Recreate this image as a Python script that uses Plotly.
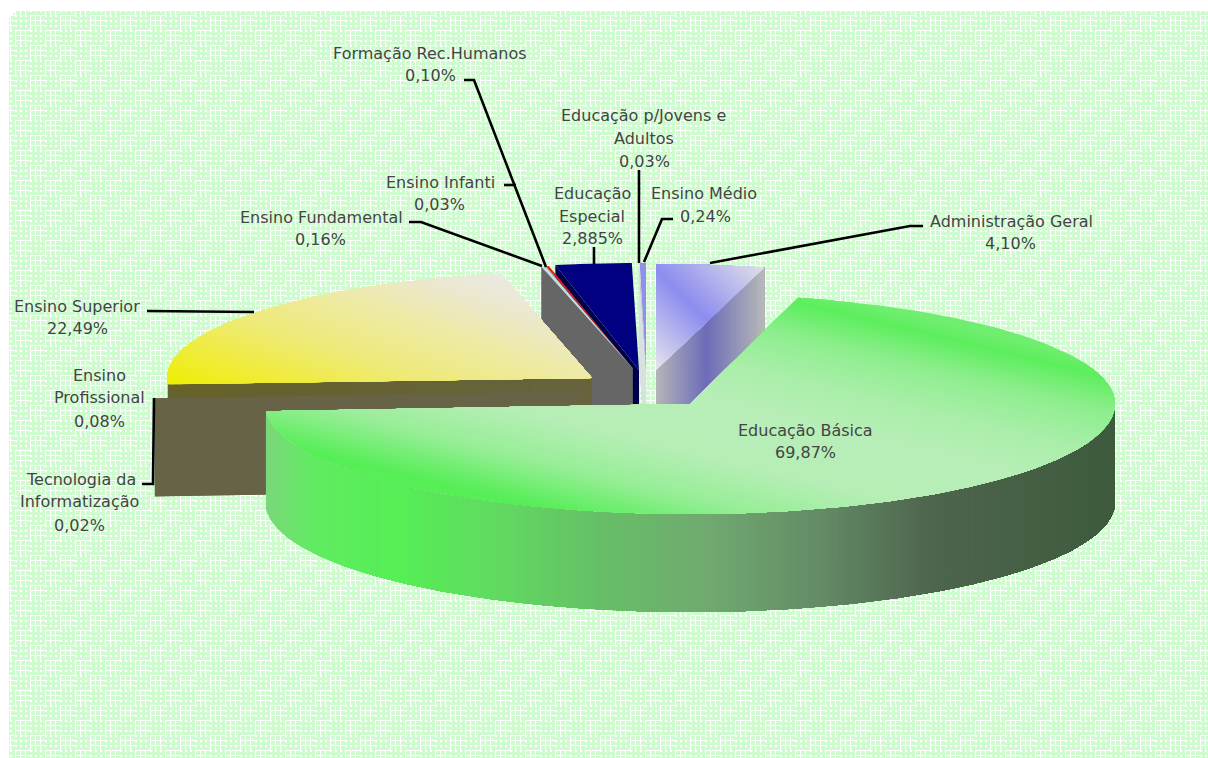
import base64
import struct
import zlib

import numpy as np
import plotly.graph_objects as go

# Budget shares, listed counter-clockwise starting from twelve o'clock
categories = ["Ensino Médio", "Educação p/Jovens e Adultos", "Educação Especial",
              "Formação Rec.Humanos", "Ensino Infanti", "Ensino Fundamental",
              "Ensino Superior", "Ensino Profissional", "Tecnologia da Informatização",
              "Educação Básica", "Administração Geral"]
shares = [0.24, 0.03, 2.885, 0.10, 0.03, 0.16, 22.49, 0.08, 0.02, 69.87, 4.10]
share_labels = ["0,24%", "0,03%", "2,885%", "0,10%", "0,03%", "0,16%",
                "22,49%", "0,08%", "0,02%", "69,87%", "4,10%"]

W, H = 1208, 758
RADIUS_X = 425
DEPTH = 98
START_ANGLE = 90.0

# Exploded centre and vertical radius of each slice
centers = {
    "Ensino Médio": (646, 370, 107), "Educação p/Jovens e Adultos": (646, 370, 107),
    "Educação Especial": (639, 370, 107),
    "Formação Rec.Humanos": (632.5, 368, 104), "Ensino Infanti": (632.5, 368, 104),
    "Ensino Fundamental": (632.5, 368, 104),
    "Ensino Superior": (592, 378, 107),
    "Ensino Profissional": (579, 391.5, 108), "Tecnologia da Informatização": (579, 391.5, 108),
    "Educação Básica": (690, 404, 110), "Administração Geral": (656, 370, 106),
}
draw_order = ["Administração Geral", "Ensino Médio", "Educação p/Jovens e Adultos",
              "Educação Especial", "Formação Rec.Humanos", "Ensino Infanti",
              "Ensino Fundamental", "Ensino Superior", "Ensino Profissional",
              "Tecnologia da Informatização", "Educação Básica"]

GRAY_WALL = "#666666"
BOX_WALL = "#666346"
flat_colors = {
    "Ensino Médio": ("#9090ea", "#62629f"),
    "Educação p/Jovens e Adultos": ("#e9f1f1", "#d8e0e0"),
    "Educação Especial": ("#000080", "#00004a"),
    "Formação Rec.Humanos": ("#e02010", GRAY_WALL),
    "Ensino Infanti": ("#f4f4f4", GRAY_WALL),
    "Ensino Fundamental": ("#c4dce0", GRAY_WALL),
    "Ensino Profissional": ("#a8a890", BOX_WALL),
    "Tecnologia da Informatização": ("#a8a890", BOX_WALL),
}

# Shading ramps: (projection value, colour) along a pixel-space direction
green_top_dir = (-0.24, 1.0)
green_top = [(95, "#70ee70"), (110, "#5cee5c"), (145, "#8eee8e"), (185, "#a8eea8"),
             (230, "#b8eeb8"), (285, "#b6eeb6"), (330, "#98ee98"), (377, "#55ee55"),
             (400, "#60ee60")]
green_wall = [(265, "#7ad87a"), (315, "#60ec60"), (399, "#55ee55"), (482, "#60dd60"),
              (593, "#66c066"), (704, "#70aa70"), (815, "#648c66"), (927, "#4e654e"),
              (1115, "#3d5a3d")]
yellow_dir = (1.0, -3.0)
yellow_top = [(-990, "#eeee00"), (-889, "#f0ec30"), (-720, "#eeea78"), (-545, "#eeeaa8"),
              (-417, "#ebe8d0"), (-316, "#ebeae4")]
yellow_wall = [(168, "#66622a"), (592, "#666340")]
admin_dir = (1.0, -1.0)
admin_top = [(286, "#e4e4ec"), (385, "#8c8cf0"), (495, "#e0e0e8")]
admin_wall = [(656, "#b4b4b8"), (705, "#6c6cb8"), (763, "#b8b8b8")]

# Text lines of every label: (text, x centre, y centre)
text_lines = [
    ("Formação Rec.Humanos", 430, 53), ("0,10%", 430, 75),
    ("Ensino Infanti", 440, 182), ("0,03%", 439, 204),
    ("Ensino Fundamental", 321, 217), ("0,16%", 320, 239),
    ("Educação p/Jovens e", 643, 115), ("Adultos", 644, 138), ("0,03%", 644, 161),
    ("Educação", 592, 193), ("Especial", 592, 216), ("2,885%", 592, 238),
    ("Ensino Médio", 704, 193), ("0,24%", 705, 216),
    ("Administração Geral", 1011, 221), ("4,10%", 1010, 243),
    ("Ensino Superior", 77, 306), ("22,49%", 77, 328),
    ("Ensino", 99, 375), ("Profissional", 99, 397), ("0,08%", 99, 421),
    ("Tecnologia da", 81, 479), ("Informatização", 79, 501), ("0,02%", 79, 525),
    ("Educação Básica", 805, 430), ("69,87%", 805, 452),
]

# Leader line routes
leaders = [
    [(464, 80), (474, 80), (546, 267)],
    [(504, 185), (516, 185)],
    [(409, 222), (421, 222), (542, 266)],
    [(639, 170), (639, 263)],
    [(594, 247), (594, 264)],
    [(673, 219), (662, 219), (644, 262)],
    [(923, 226), (910, 226), (710, 263)],
    [(147, 311), (254, 312)],
    [(142, 484), (153, 484), (154, 398)],
]


def hex_rgb(c):
    return np.array([int(c[i:i + 2], 16) for i in (1, 3, 5)], dtype=float)


def ramp_color(stops, t):
    pos = [s[0] for s in stops]
    rgb = np.array([hex_rgb(s[1]) for s in stops])
    r, g, b = (np.interp(t, pos, rgb[:, i]) for i in range(3))
    return f"rgb({r:.0f},{g:.0f},{b:.0f})"


def clip_half_plane(poly, d, t0):
    """Keep the part of a polygon whose projection on d is at least t0."""
    out = []
    n = len(poly)
    for i in range(n):
        p, q = poly[i], poly[(i + 1) % n]
        tp = p[0] * d[0] + p[1] * d[1]
        tq = q[0] * d[0] + q[1] * d[1]
        if tp >= t0:
            out.append(p)
        if (tp >= t0) != (tq >= t0):
            f = (t0 - tp) / (tq - tp)
            out.append((p[0] + f * (q[0] - p[0]), p[1] + f * (q[1] - p[1])))
    return out


def add_poly(fig, poly, color):
    xs = [p[0] for p in poly] + [poly[0][0]]
    ys = [p[1] for p in poly] + [poly[0][1]]
    fig.add_trace(go.Scatter(x=xs, y=ys, mode="lines", fill="toself", fillcolor=color,
                             line=dict(width=0), hoverinfo="skip"))


def add_shaded(fig, poly, d, stops, steps):
    # Later bands paint over earlier ones, so no seams appear between them
    lo, hi = stops[0][0], stops[-1][0]
    add_poly(fig, poly, ramp_color(stops, lo))
    for t in np.linspace(lo, hi, steps)[1:]:
        part = clip_half_plane(poly, d, t)
        if len(part) >= 3:
            add_poly(fig, part, ramp_color(stops, t))


def rim_point(c, ang):
    rad = np.radians(ang)
    return (c[0] + RADIUS_X * np.cos(rad), c[1] - c[2] * np.sin(rad))


def top_face(c, a0, a1):
    count = max(2, int(abs(a1 - a0) * 2))
    return [(c[0], c[1])] + [rim_point(c, a) for a in np.linspace(a0, a1, count)]


def cut_face(c, ang):
    r = rim_point(c, ang)
    return [(c[0], c[1]), r, (r[0], r[1] + DEPTH), (c[0], c[1] + DEPTH)]


def rim_wall(c, a0, a1):
    # Only the part of the rim that faces the viewer
    lo, hi = max(a0, 180.0), min(a1, 360.0)
    if hi <= lo:
        return None
    arc = [rim_point(c, a) for a in np.linspace(lo, hi, int((hi - lo) * 2) + 2)]
    return arc + [(p[0], p[1] + DEPTH) for p in reversed(arc)]


def background_uri():
    # Woven pale-green tile written straight to a PNG
    yy, xx = np.mgrid[0:H, 0:W]
    block = ((xx % 30 < 15) == (yy % 30 < 15))
    dots = (xx % 5 < 2) & (yy % 5 < 2)
    lines = (xx % 5 == 0) | (yy % 5 == 0)
    white = np.where(block, dots, lines)
    img = np.full((H, W, 3), 255, dtype=np.uint8)
    inside = (xx >= 9) & (yy >= 11) & ((xx - 9) + (yy - 11) >= 7)
    img[inside & ~white] = (206, 252, 206)
    raw = b"".join(b"\x00" + img[row].tobytes() for row in range(H))

    def chunk(tag, data):
        body = tag + data
        return struct.pack(">I", len(data)) + body + struct.pack(">I", zlib.crc32(body))

    png = (b"\x89PNG\r\n\x1a\n" + chunk(b"IHDR", struct.pack(">IIBBBBB", W, H, 8, 2, 0, 0, 0))
           + chunk(b"IDAT", zlib.compress(raw, 9)) + chunk(b"IEND", b""))
    return "data:image/png;base64," + base64.b64encode(png).decode()


# Convert the shares into angular spans
scale = 360.0 / sum(shares)
spans = {}
angle = START_ANGLE
for name, share in zip(categories, shares):
    spans[name] = (angle, angle + share * scale)
    angle += share * scale

fig = go.Figure()
for name in draw_order:
    a0, a1 = spans[name]
    c = centers[name]
    if name == "Administração Geral":
        add_shaded(fig, cut_face(c, a0 - 360 if a0 > 360 else a0), (1, 0), admin_wall, 54)
        add_shaded(fig, top_face(c, a0, a1), admin_dir, admin_top, 70)
    elif name == "Ensino Superior":
        add_shaded(fig, cut_face(c, a1), (1, 0), yellow_wall, 8)
        add_shaded(fig, top_face(c, a0, a1), yellow_dir, yellow_top, 90)
    elif name == "Educação Básica":
        add_shaded(fig, rim_wall(c, a0, a1), (1, 0), green_wall, 170)
        add_shaded(fig, top_face(c, a0, a1), green_top_dir, green_top, 110)
    else:
        top_color, wall_color = flat_colors[name]
        add_poly(fig, cut_face(c, a1), wall_color)
        add_poly(fig, top_face(c, a0, a1), top_color)

for route in leaders:
    fig.add_trace(go.Scatter(x=[p[0] for p in route], y=[p[1] for p in route], mode="lines",
                             line=dict(color="#000000", width=2.6), hoverinfo="skip"))

for text, x, y in text_lines:
    fig.add_annotation(x=x, y=y, text=text, showarrow=False, xanchor="center", yanchor="middle",
                       font=dict(family="DejaVu Sans", size=16, color="#444444"))

fig.add_layout_image(dict(source=background_uri(), xref="x", yref="y", x=0, y=0, sizex=W, sizey=H,
                          sizing="stretch", xanchor="left", yanchor="top", layer="below"))
fig.update_layout(width=W, height=H, margin=dict(l=0, r=0, t=0, b=0), showlegend=False,
                  paper_bgcolor="#ffffff", plot_bgcolor="#ffffff",
                  xaxis=dict(range=[0, W], visible=False, fixedrange=True),
                  yaxis=dict(range=[H, 0], visible=False, fixedrange=True))
fig.write_html("out.html", config=dict(displayModeBar=False))
